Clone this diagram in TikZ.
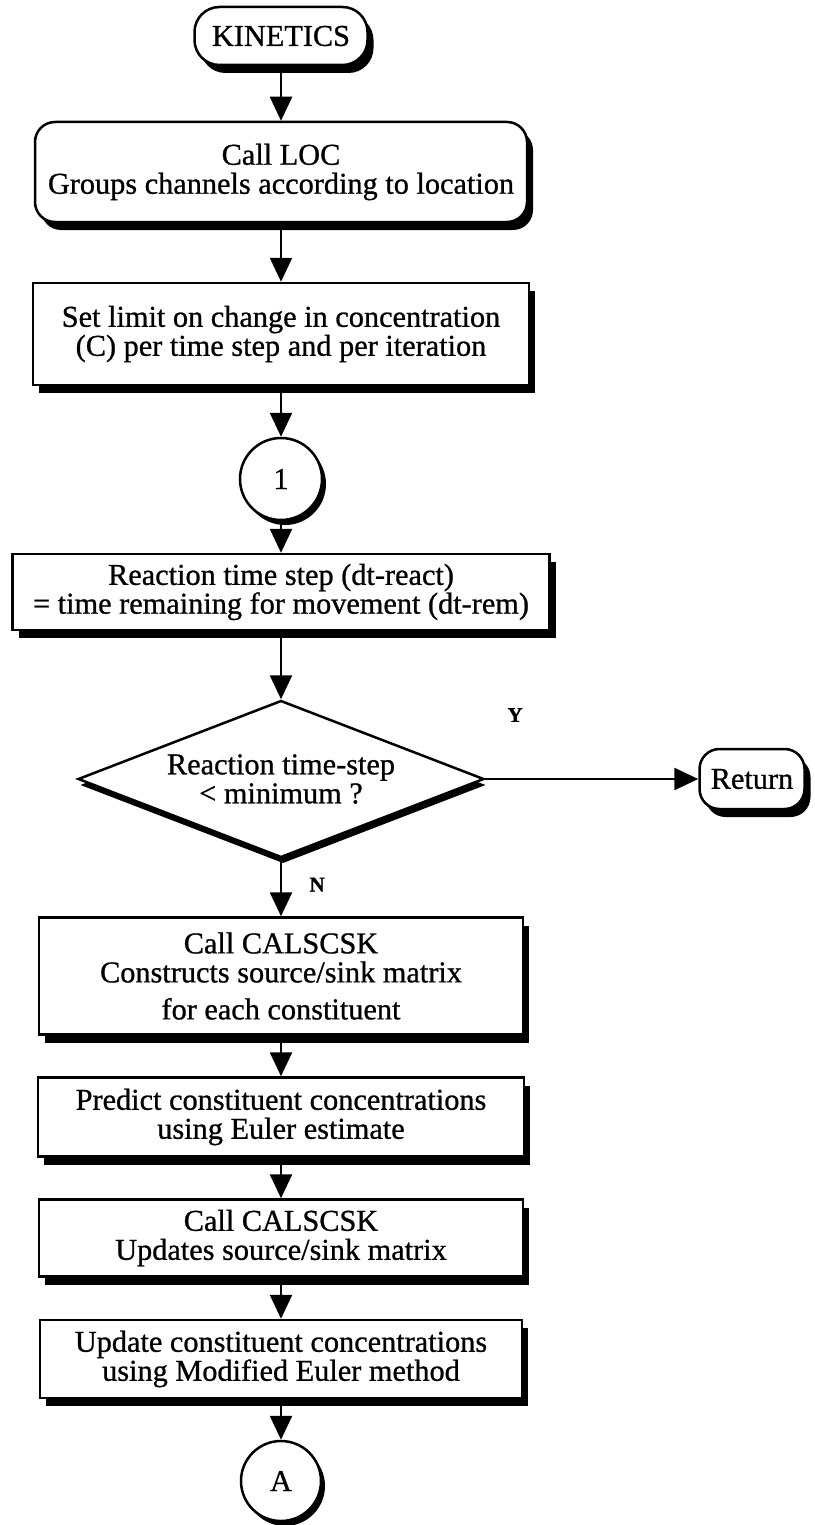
\documentclass[tikz,border=0pt]{standalone}
\usepackage{fontspec}
\setmainfont{Liberation Serif}[FakeBold=0.8]
\usetikzlibrary{shapes.geometric,shadows,arrows.meta}
\begin{document}
\begin{tikzpicture}[x=1pt,y=-1pt,
  every node/.style={font=\fontsize{30.3}{29}\selectfont},
  box/.style={draw, line width=2.5pt, fill=white, align=center, inner sep=0pt,
    drop shadow={opacity=1,fill=black,shadow xshift=6pt,shadow yshift=-8pt}},
  rbox/.style={box, rounded corners=20pt},
  conn/.style={circle, draw, line width=2.5pt, fill=white, inner sep=0pt, minimum size=82pt,
    drop shadow={opacity=1,fill=black,shadow xshift=4pt,shadow yshift=-5pt}},
  decis/.style={diamond, draw, line width=2.5pt, fill=white, inner sep=0pt, aspect=2.6, align=center,
    drop shadow={opacity=1,fill=black,shadow xshift=2pt,shadow yshift=-6pt}},
  arr/.style={line width=2.5pt, -{Triangle[width=22pt,length=24pt]}},
  lbl/.style={font=\fontsize{21}{21}\selectfont\bfseries}
]
\useasboundingbox (0,0) rectangle (814,1525);
\node[rbox, rounded corners=25pt, minimum width=173pt, minimum height=58pt] (kin) at (281,36) {KINETICS};
\node[rbox, minimum width=492pt, minimum height=100pt] (loc) at (281,172) {Call LOC\\Groups channels according to location};
\node[box, minimum width=496pt, minimum height=102pt] (lim) at (281,334) {Set limit on change in concentration\\(C) per time step and per iteration};
\node[conn] (c1) at (281,479) {1};
\node[box, minimum width=537pt, minimum height=76pt, font=\fontsize{30.3}{26}\selectfont] (rts) at (281,592) {Reaction time step (dt-react)\\= time remaining for movement (dt-rem)};
\node[decis, minimum width=406pt, minimum height=157pt] (dec) at (281,779) {Reaction time-step\\< minimum ?};
\node[rbox, minimum width=105pt, minimum height=60pt] (ret) at (752,779) {Return};
\node[box, minimum width=484pt, minimum height=117pt] (cal1) at (281,976) {Call CALSCSK\\Constructs source/sink matrix\\[8pt]for each constituent};
\node[box, minimum width=486pt, minimum height=79pt] (pred) at (281,1117) {Predict constituent concentrations\\using Euler estimate};
\node[box, minimum width=484pt, minimum height=77pt] (cal2) at (281,1238) {Call CALSCSK\\Updates source/sink matrix};
\node[box, minimum width=482pt, minimum height=78pt] (upd) at (281,1359) {Update constituent concentrations\\using Modified Euler method};
\node[conn, minimum size=80pt] (ca) at (281,1481) {A};

\draw[arr] (kin) -- (loc);
\draw[arr] (loc) -- (lim);
\draw[arr] (lim) -- (c1);
\draw[arr] (c1) -- (rts);
\draw[arr] (rts) -- (dec);
\draw[arr] (dec.east) -- node[lbl, pos=0.14, yshift=64pt] {Y} (ret.west);
\draw[arr] (dec.south) -- node[lbl, pos=0.45, right=24pt] {N} (cal1.north);
\draw[arr] (cal1) -- (pred);
\draw[arr] (pred) -- (cal2);
\draw[arr] (cal2) -- (upd);
\draw[arr] (upd) -- (ca);
\end{tikzpicture}
\end{document}
